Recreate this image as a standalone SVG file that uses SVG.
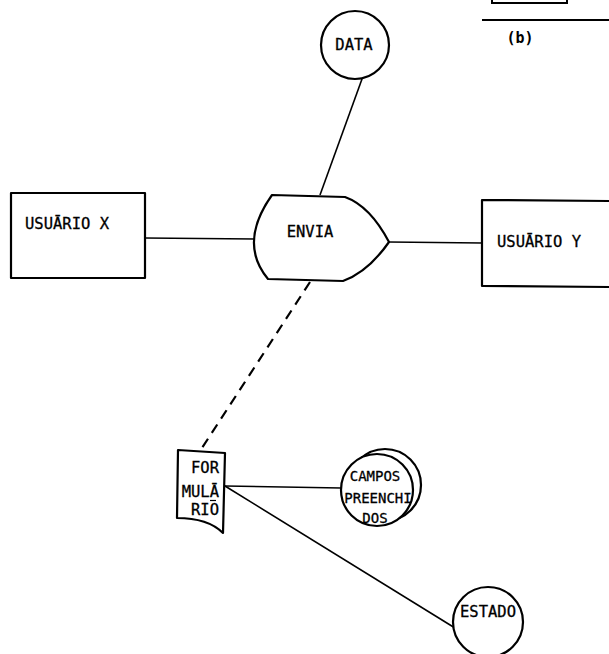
<svg xmlns="http://www.w3.org/2000/svg" width="609" height="654" viewBox="0 0 609 654">
  <style>
    .shape { fill: #fff; stroke: #000; stroke-width: 2.2; stroke-linejoin: round; }
    .edge { fill: none; stroke: #000; stroke-width: 1.6; }
    .dash { fill: none; stroke: #000; stroke-width: 2.2; stroke-dasharray: 10 7; }
    .lbl { font-family: "DejaVu Sans Mono", "Liberation Mono", monospace; font-size: 15.5px; fill: #000; stroke: #000; stroke-width: 0.3; }
    .sm { font-size: 14px; }
  </style>
  <rect width="609" height="654" fill="#fff"/>

  <!-- fragment of the panel above: box edge, rule and caption -->
  <g id="panel-b">
    <path d="M492,0 V3 H567 V0" fill="none" stroke="#000" stroke-width="2"/>
    <line x1="482" y1="20" x2="609" y2="20" stroke="#000" stroke-width="2"/>
    <text x="520" y="43" text-anchor="middle" font-family="DejaVu Sans Mono, monospace" font-weight="bold" font-size="15">(b)</text>
  </g>

  <!-- connectors -->
  <g id="connectors">
    <line class="edge" x1="362" y1="79" x2="320" y2="195"/>
    <line class="edge" x1="145" y1="238" x2="255" y2="239"/>
    <line class="edge" x1="389" y1="242" x2="482" y2="243"/>
    <line class="dash" x1="310" y1="282" x2="200" y2="451"/>
    <line class="edge" x1="225" y1="486" x2="341" y2="488"/>
    <line class="edge" x1="225" y1="486" x2="455" y2="628"/>
  </g>

  <g id="data">
    <circle class="shape" cx="355" cy="45" r="34"/>
    <text class="lbl" x="354" y="50" text-anchor="middle">DATA</text>
  </g>

  <g id="usuario-x">
    <rect class="shape" x="11" y="193" width="134" height="85"/>
    <text class="lbl" x="25" y="229">USUĀRIO X</text>
  </g>

  <g id="envia">
    <path class="shape" d="M272,195 L345,197 Q370,206 389,242 Q368,272 343,281 L268,279 Q238,243 272,195 Z"/>
    <text class="lbl" x="310" y="237" text-anchor="middle">ENVIA</text>
  </g>

  <g id="usuario-y">
    <path class="shape" d="M611,201 L482,200 L482,286 L611,287"/>
    <text class="lbl" x="497" y="247">USUĀRIO Y</text>
  </g>

  <g id="formulario">
    <path class="shape" d="M178,450 L225,453 L223,533 C212,522 195,518 177,518 Z"/>
    <text class="lbl" x="219" y="473" text-anchor="end">FOR</text>
    <text class="lbl" x="219" y="497" text-anchor="end">MULĀ</text>
    <line x1="210" y1="500.5" x2="216" y2="500.5" stroke="#000" stroke-width="1.2"/>
    <text class="lbl" x="219" y="515" text-anchor="end">RIO</text>
  </g>

  <g id="campos-preenchidos">
    <circle class="shape" cx="385" cy="485" r="36"/>
    <circle class="shape" cx="377" cy="490" r="36"/>
    <text class="lbl sm" x="375" y="481" text-anchor="middle">CAMPOS</text>
    <text class="lbl sm" x="378" y="503" text-anchor="middle">PREENCHI</text>
    <text class="lbl sm" x="375" y="523" text-anchor="middle">DOS</text>
  </g>

  <g id="estado">
    <circle class="shape" cx="488" cy="622" r="35"/>
    <text class="lbl" x="488" y="617" text-anchor="middle">ESTADO</text>
  </g>
</svg>
